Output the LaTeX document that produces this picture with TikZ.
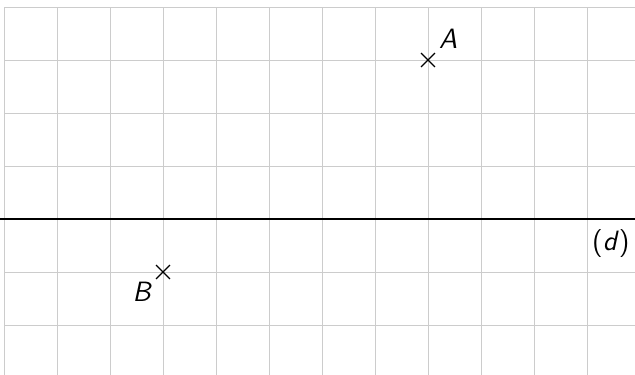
\documentclass[tikz,border=0pt]{standalone}
\usetikzlibrary{calc}
\begin{document}
\begin{tikzpicture}[x=1cm,y=1cm,
  gridline/.style={draw={rgb,255:red,204;green,204;blue,204},line width=0.5pt},
  crossmark/.style={line width=0.6pt},
  lbl/.style={font=\fontsize{15}{17}\selectfont\sffamily\itshape,inner sep=0pt}]
\useasboundingbox (-0.0755,-2.925) rectangle (11.906,4.132);
\clip (-0.0755,-2.925) rectangle (11.906,4.132);
\foreach \i in {0,...,11} \draw[gridline] (\i,-3) -- (\i,4);
\foreach \j in {-2,...,4} \draw[gridline] (0,\j) -- (12,\j);
\coordinate (dl) at (-0.2,0);
\coordinate (dr) at (12,0);
\draw[line width=1.1pt] (dl) -- (dr);
\coordinate (A) at (8,3);
\coordinate (B) at (3,-1);
\draw[crossmark] ($(A)+(-0.13,-0.13)$) -- ($(A)+(0.13,0.13)$);
\draw[crossmark] ($(A)+(-0.13,0.13)$) -- ($(A)+(0.13,-0.13)$);
\draw[crossmark] ($(B)+(-0.13,-0.13)$) -- ($(B)+(0.13,0.13)$);
\draw[crossmark] ($(B)+(-0.13,0.13)$) -- ($(B)+(0.13,-0.13)$);
\node[lbl] (lA) at (8.38,3.40) {A};
\node[lbl] (lB) at (2.60,-1.38) {B};
\node[lbl,font=\fontsize{15}{17}\selectfont\sffamily] (ld) at (11.45,-0.47) {(\textit{d})};
\end{tikzpicture}
\end{document}
